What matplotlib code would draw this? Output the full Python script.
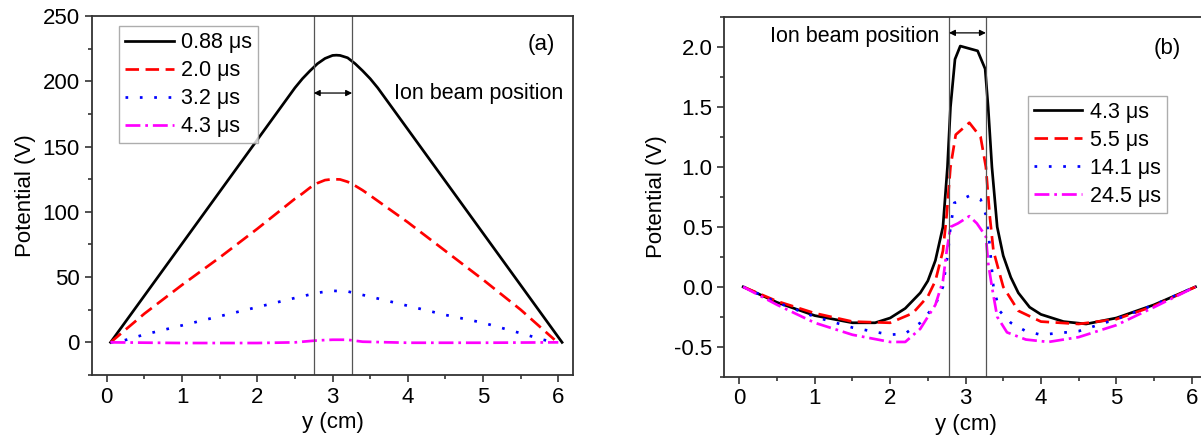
import matplotlib
matplotlib.use("Agg")
import matplotlib.pyplot as plt

plt.rcParams['font.family'] = ['Liberation Sans', 'DejaVu Sans']
plt.rcParams['font.size'] = 16

# ---------------- Panel (a) data ----------------
a_labels = ["0.88 \u03bcs", "2.0 \u03bcs", "3.2 \u03bcs", "4.3 \u03bcs"]
a1_x = [0.05, 0.5, 1.0, 1.5, 2.0, 2.5, 2.6, 2.7, 2.8, 2.9, 3.0, 3.05, 3.1, 3.2, 3.3, 3.4, 3.5, 3.6,
        4.0, 4.5, 5.0, 5.5, 6.05]
a1_y = [0, 35.8, 75.6, 115.4, 155.2, 195, 202, 208, 213.5, 217.5, 219.8, 220, 219.8, 218, 213.5, 208, 202, 195,
        163.2, 123.4, 83.6, 43.8, 0]
a2_x = [0.05, 0.5, 1.0, 1.5, 2.0, 2.5, 2.6, 2.7, 2.8, 2.9, 3.0, 3.1, 3.2, 3.3, 3.4, 3.5,
        4.0, 4.5, 5.0, 5.5, 5.95]
a2_y = [0, 22, 44, 65, 87, 110, 114, 118.5, 122, 124.3, 125, 124.8, 123, 120, 116.5, 112.5,
        92, 70, 48, 25, 2]
a3_x = [0.05, 0.2, 0.5, 1.0, 1.5, 2.0, 2.5, 2.8, 3.0, 3.2, 3.5, 4.0, 4.5, 5.0, 5.5, 5.8, 5.95]
a3_y = [0, 1, 6, 13, 20, 27, 34, 38, 39.5, 39, 35, 28, 21, 15, 7, 2, 0]
a4_x = [0.05, 1.0, 2.0, 2.5, 2.8, 3.0, 3.2, 3.4, 4.0, 5.0, 6.0]
a4_y = [0, -0.5, -0.5, 0, 1.5, 2, 2, 0.5, -0.3, -0.3, 0]

# ---------------- Panel (b) data ----------------
b_labels = ["4.3 \u03bcs", "5.5 \u03bcs", "14.1 \u03bcs", "24.5 \u03bcs"]
b1_x = [0.05, 0.5, 1.0, 1.5, 1.8, 2.0, 2.2, 2.4, 2.5, 2.6, 2.7, 2.76, 2.8, 2.86, 2.93, 3.16, 3.26,
        3.30, 3.35, 3.42, 3.5, 3.6, 3.7, 3.85, 4.0, 4.3, 4.6, 5.0, 5.5, 6.05]
b1_y = [0, -0.13, -0.24, -0.30, -0.30, -0.26, -0.18, -0.05, 0.05, 0.22, 0.5, 1.0, 1.5, 1.9, 2.01, 1.97, 1.82,
        1.5, 1.0, 0.5, 0.26, 0.08, -0.05, -0.17, -0.23, -0.29, -0.31, -0.26, -0.15, 0]
b2_x = [0.05, 0.5, 1.0, 1.5, 2.0, 2.3, 2.5, 2.6, 2.7, 2.75, 2.8, 2.87, 3.05, 3.2, 3.27, 3.32, 3.37,
        3.5, 3.7, 4.0, 4.5, 5.0, 5.5, 6.05]
b2_y = [0, -0.12, -0.22, -0.29, -0.30, -0.22, -0.08, 0.05, 0.3, 0.6, 1.0, 1.27, 1.37, 1.25, 1.0, 0.6, 0.3,
        0.0, -0.2, -0.29, -0.31, -0.27, -0.16, 0]
b3_x = [0.05, 0.5, 1.0, 1.5, 2.0, 2.2, 2.4, 2.6, 2.7, 2.77, 2.8, 2.85, 3.05, 3.2, 3.27, 3.32, 3.37,
        3.45, 3.6, 3.8, 4.0, 4.5, 5.0, 5.5, 6.05]
b3_y = [0, -0.13, -0.25, -0.34, -0.40, -0.39, -0.30, -0.15, 0.0, 0.3, 0.5, 0.7, 0.76, 0.73, 0.6, 0.35, 0.0,
        -0.2, -0.30, -0.37, -0.40, -0.37, -0.27, -0.15, 0]
b4_x = [0.05, 0.5, 1.0, 1.5, 2.0, 2.2, 2.4, 2.6, 2.7, 2.75, 2.8, 2.9, 3.05, 3.15, 3.27, 3.3, 3.35,
        3.42, 3.55, 3.8, 4.1, 4.5, 5.0, 5.5, 6.05]
b4_y = [0, -0.15, -0.30, -0.40, -0.46, -0.46, -0.35, -0.15, 0.05, 0.3, 0.5, 0.53, 0.59, 0.53, 0.42, 0.2, 0.0,
        -0.25, -0.38, -0.44, -0.46, -0.42, -0.32, -0.17, 0]

colors = ['black', '#ff0000', '#0000ff', '#ff00ff']
styles = ['-', (0, (5, 2.4)), (0, (1, 4.3)), (0, (5.5, 1.8, 1, 1.8))]
lw = 1.95

fig = plt.figure(figsize=(12.01, 4.46), dpi=100)
axa = fig.add_axes([0.0764, 0.1592, 0.4010, 0.8049])
axb = fig.add_axes([0.6031, 0.1554, 0.4017, 0.8058])


def style_axis(ax):
    for s in ax.spines.values():
        s.set_linewidth(1.3)
        s.set_color('#333333')
    ax.tick_params(which='both', direction='out', top=False, right=False, labelsize=16, width=1.2, color='#333333')
    ax.tick_params(which='major', length=5)
    ax.tick_params(which='minor', length=3)
    ax.set_xlim(-0.2, 6.2)
    ax.set_xticks([0, 1, 2, 3, 4, 5, 6])
    ax.set_xticks([0.5, 1.5, 2.5, 3.5, 4.5, 5.5], minor=True)
    ax.set_xlabel("y (cm)", fontsize=16, labelpad=3)
    ax.set_ylabel("Potential (V)", fontsize=16, labelpad=5)


# Panel (a)
for xs, ys, c, ls, lab in zip([a1_x, a2_x, a3_x, a4_x], [a1_y, a2_y, a3_y, a4_y], colors, styles, a_labels):
    axa.plot(xs, ys, color=c, linestyle=ls, lw=lw, label=lab)
style_axis(axa)
axa.set_ylim(-25, 250)
axa.set_yticks([0, 50, 100, 150, 200, 250])
axa.set_yticks([-25, 25, 75, 125, 175, 225], minor=True)
for xv in [2.75, 3.26]:
    axa.axvline(xv, color='#555555', lw=0.9)
axa.annotate('', xy=(2.75, 191), xytext=(3.26, 191),
             arrowprops=dict(arrowstyle='<|-|>', color='black', lw=0.9, mutation_scale=9, shrinkA=0, shrinkB=0))
axa.text(3.82, 191, "Ion beam position", fontsize=15.5, va='center', ha='left')
axa.text(5.77, 228, "(a)", fontsize=16, va='center', ha='center')
leg = axa.legend(loc='upper left', bbox_to_anchor=(0.057, 0.972), fontsize=15.5, frameon=True, fancybox=False,
                 edgecolor='#999999', handlelength=2.25, handletextpad=0.35, labelspacing=0.33,
                 borderpad=0.28, borderaxespad=0)
leg.get_frame().set_linewidth(1.0)

# Panel (b)
for xs, ys, c, ls, lab in zip([b1_x, b2_x, b3_x, b4_x], [b1_y, b2_y, b3_y, b4_y], colors, styles, b_labels):
    axb.plot(xs, ys, color=c, linestyle=ls, lw=lw, label=lab)
style_axis(axb)
axb.set_ylim(-0.75, 2.25)
axb.set_yticks([-0.5, 0.0, 0.5, 1.0, 1.5, 2.0])
axb.set_yticklabels(["-0.5", "0.0", "0.5", "1.0", "1.5", "2.0"])
axb.set_yticks([-0.75, -0.25, 0.25, 0.75, 1.25, 1.75, 2.25], minor=True)
for xv in [2.78, 3.27]:
    axb.axvline(xv, color='#555555', lw=0.9)
axb.annotate('', xy=(2.78, 2.12), xytext=(3.27, 2.12),
             arrowprops=dict(arrowstyle='<|-|>', color='black', lw=0.9, mutation_scale=9, shrinkA=0, shrinkB=0))
axb.text(2.655, 2.09, "Ion beam position", fontsize=15.5, va='center', ha='right')
axb.text(5.68, 1.99, "(b)", fontsize=16, va='center', ha='center')
leg = axb.legend(loc='upper left', bbox_to_anchor=(0.629, 0.782), fontsize=15.5, frameon=True, fancybox=False,
                 edgecolor='#999999', handlelength=2.25, handletextpad=0.35, labelspacing=0.33,
                 borderpad=0.28, borderaxespad=0)
leg.get_frame().set_linewidth(1.0)

fig.savefig("out.png", dpi=100)
